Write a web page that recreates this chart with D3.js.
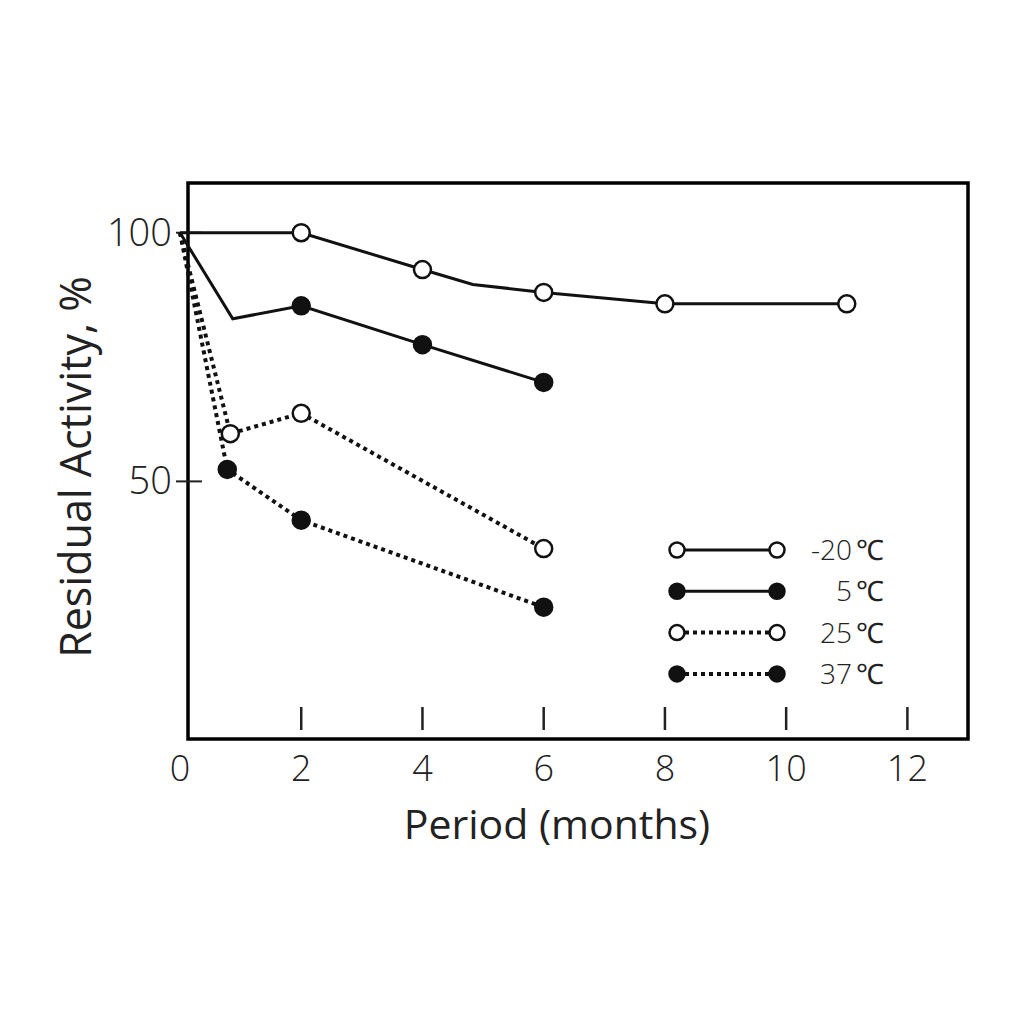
<!DOCTYPE html>
<html>
<head>
<meta charset="utf-8">
<script src="https://cdn.jsdelivr.net/npm/d3@7"></script>
<style>
  body { margin: 0; background: #fff; }
  text { font-family: "Open Sans", "Liberation Sans", sans-serif; fill: #222; }
</style>
</head>
<body>
<div id="chart"></div>
<script>
// values (months, residual activity %)
var seriesTemps = ["-20", "5", "25", "37"];
var months20 = [0, 2, 4, 4.83, 6, 8, 11];
var activity20 = [100, 100, 92.6, 89.6, 88.0, 85.7, 85.7];
var marked20 = [false, true, true, false, true, true, true];
var months5 = [0, 0.87, 2, 4, 6];
var activity5 = [100, 82.7, 85.3, 77.5, 69.9];
var marked5 = [false, false, true, true, true];
var months25 = [0, 0.83, 2, 6];
var activity25 = [100, 59.6, 63.7, 36.5];
var marked25 = [false, true, true, true];
var months37 = [0, 0.78, 2, 6];
var activity37 = [100, 52.4, 42.2, 24.7];
var marked37 = [false, true, true, true];
var xTicks = [0, 2, 4, 6, 8, 10, 12];
var yTicks = [50, 100];

var width = 1024, height = 1024;

var svg = d3.select("#chart").append("svg")
    .attr("width", width)
    .attr("height", height);

// scales
var x = d3.scaleLinear().domain([0, 13]).range([180, 968]);
var y = d3.scaleLinear().domain([-1.8, 110]).range([739, 183]);

// build series table
var series = [
    {name: seriesTemps[0], xs: months20, ys: activity20, m: marked20, filled: false, dashed: false},
    {name: seriesTemps[1], xs: months5, ys: activity5, m: marked5, filled: true, dashed: false},
    {name: seriesTemps[2], xs: months25, ys: activity25, m: marked25, filled: false, dashed: true},
    {name: seriesTemps[3], xs: months37, ys: activity37, m: marked37, filled: true, dashed: true}
];
series.forEach(function(s) {
    s.points = s.xs.map(function(v, i) { return {x: v, y: s.ys[i], marked: s.m[i]}; });
});

// frame
svg.append("rect")
    .attr("x", 188)
    .attr("y", 183)
    .attr("width", 968 - 188)
    .attr("height", 739 - 183)
    .attr("fill", "none")
    .attr("stroke", "#000")
    .attr("stroke-width", 3.5);

// x ticks sit inside the frame
var xAxis = svg.append("g");
xAxis.selectAll("line")
    .data(xTicks.filter(function(d) { return d > 0; }))
    .enter().append("line")
    .attr("x1", function(d) { return x(d); })
    .attr("x2", function(d) { return x(d); })
    .attr("y1", 707)
    .attr("y2", 730)
    .attr("stroke", "#222")
    .attr("stroke-width", 2.5);
xAxis.selectAll("text")
    .data(xTicks)
    .enter().append("text")
    .attr("x", function(d) { return x(d); })
    .attr("y", 781)
    .attr("text-anchor", "middle")
    .style("font-size", "36px")
    .style("font-weight", 300)
    .text(function(d) { return d; });

// y ticks
var yAxis = svg.append("g");
yAxis.selectAll("line")
    .data(yTicks)
    .enter().append("line")
    .attr("x1", 176)
    .attr("x2", 202)
    .attr("y1", function(d) { return y(d); })
    .attr("y2", function(d) { return y(d); })
    .attr("stroke", "#222")
    .attr("stroke-width", 2);
yAxis.selectAll("text")
    .data(yTicks)
    .enter().append("text")
    .attr("x", 172)
    .attr("y", function(d) { return y(d) + 13; })
    .attr("text-anchor", "end")
    .style("font-size", "38px")
    .style("font-weight", 300)
    .text(function(d) { return d; });

// axis titles
svg.append("text")
    .attr("x", 557)
    .attr("y", 839)
    .attr("text-anchor", "middle")
    .style("font-size", "41px")
    .text("Period (months)");

svg.append("text")
    .attr("text-anchor", "middle")
    .attr("transform", "translate(91,467) rotate(-90)")
    .style("font-size", "43px")
    .text("Residual Activity, %");

// lines
var line = d3.line()
    .x(function(d) { return x(d.x); })
    .y(function(d) { return y(d.y); });

svg.selectAll(".series")
    .data(series)
    .enter().append("path")
    .attr("class", "series")
    .attr("d", function(d) { return line(d.points); })
    .attr("fill", "none")
    .attr("stroke", "#111")
    .attr("stroke-width", function(d) { return d.dashed ? 4 : 3; })
    .attr("stroke-dasharray", function(d) { return d.dashed ? "4,4" : null; });

// markers
series.forEach(function(s) {
    svg.selectAll(null)
        .data(s.points.filter(function(p) { return p.marked; }))
        .enter().append("circle")
        .attr("cx", function(d) { return x(d.x); })
        .attr("cy", function(d) { return y(d.y); })
        .attr("r", 8.5)
        .attr("fill", s.filled ? "#111" : "#fff")
        .attr("stroke", "#111")
        .attr("stroke-width", 2.5);
});

// legend
var legend = svg.selectAll(".legend")
    .data(series)
    .enter().append("g")
    .attr("class", "legend")
    .attr("transform", function(d, i) { return "translate(0," + (550 + i * 41.3) + ")"; });

legend.append("line")
    .attr("x1", 677)
    .attr("x2", 777)
    .attr("stroke", "#111")
    .attr("stroke-width", function(d) { return d.dashed ? 4 : 3; })
    .attr("stroke-dasharray", function(d) { return d.dashed ? "4,4" : null; });

legend.selectAll("circle")
    .data(function(d) { return [d, d]; })
    .enter().append("circle")
    .attr("cx", function(d, i) { return i === 0 ? 677 : 777; })
    .attr("r", 7.5)
    .attr("fill", function(d) { return d.filled ? "#111" : "#fff"; })
    .attr("stroke", "#111")
    .attr("stroke-width", 2.5);

var legendText = legend.append("text")
    .attr("x", 884)
    .attr("y", 10)
    .attr("text-anchor", "end")
    .style("font-size", "28px")
    .style("font-weight", 300);
legendText.append("tspan").text(function(d) { return d.name; });
legendText.append("tspan").attr("dx", 4).text("\u2103");
</script>
</body>
</html>
